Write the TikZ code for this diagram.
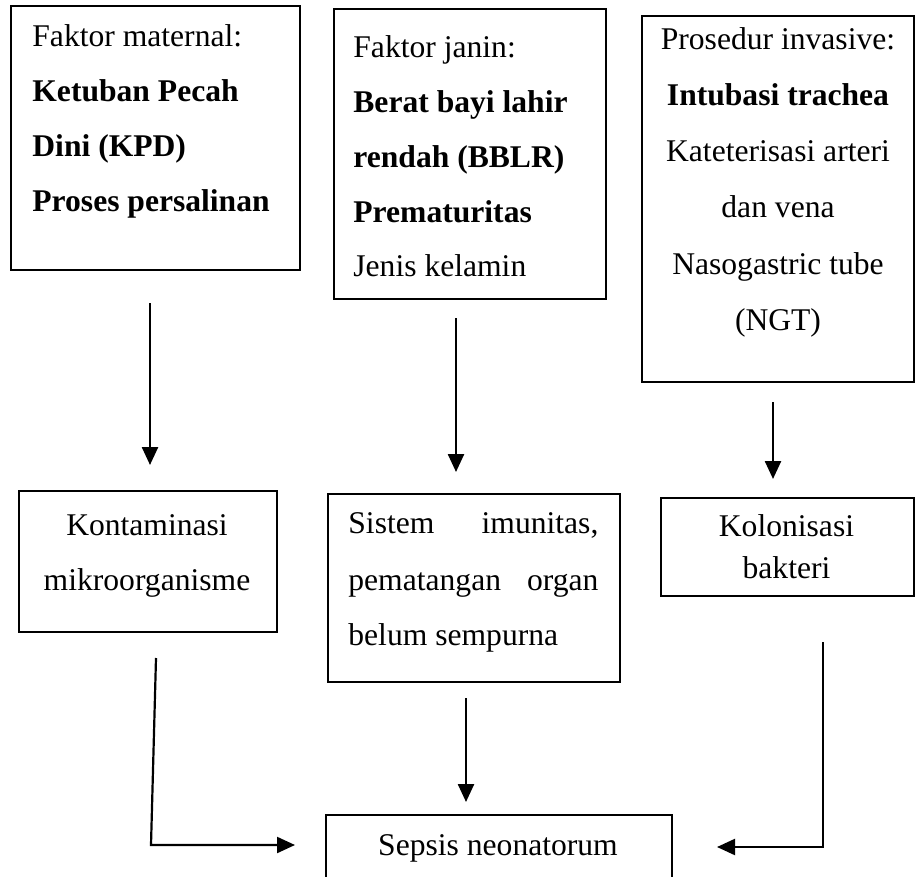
\documentclass[tikz,border=0pt]{standalone}
\usepackage{fontspec}
\setmainfont{Liberation Serif}
\usetikzlibrary{arrows.meta}
\begin{document}
\begin{tikzpicture}[x=0.5pt,y=-0.5pt,
  box/.style={draw, line width=0.8pt, rectangle, anchor=north west, inner sep=0pt},
  txt/.style={font=\fontsize{15.8pt}{19pt}\selectfont, inner sep=0pt},
  arr/.style={line width=1.25pt, -{Triangle[width=8pt,length=9pt]}},
  elbow/.style={line width=1.1pt, -{Triangle[width=8pt,length=9pt]}}]
\clip (0,0) rectangle (915,877);
% boxes
\node[box, minimum width=144.5pt, minimum height=132pt] (b1) at (10,5) {};
\node[box, minimum width=136pt, minimum height=145pt] (b2) at (333,8) {};
\node[box, minimum width=136pt, minimum height=183pt] (b3) at (641,15) {};
\node[box, minimum width=129pt, minimum height=70.5pt] (kont) at (18,490) {};
\node[box, minimum width=146pt, minimum height=94pt] (sist) at (327,493) {};
\node[box, minimum width=126.5pt, minimum height=49pt] (kolo) at (660,497) {};
\node[box, minimum width=173pt, minimum height=60pt] (seps) at (325,814) {};
% box 1 text
\node[txt, anchor=base west] (b1t1) at (32,46.7) {Faktor maternal:};
\node[txt, anchor=base west] (b1t2) at (32,101.7) {\textbf{Ketuban Pecah}};
\node[txt, anchor=base west] (b1t3) at (32,156.7) {\textbf{Dini (KPD)}};
\node[txt, anchor=base west] (b1t4) at (32,211.7) {\textbf{Proses persalinan}};
% box 2 text
\node[txt, anchor=base west] (b2t1) at (353,58) {Faktor janin:};
\node[txt, anchor=base west] (b2t2) at (353,113) {\textbf{Berat bayi lahir}};
\node[txt, anchor=base west] (b2t3) at (353,168) {\textbf{rendah (BBLR)}};
\node[txt, anchor=base west] (b2t4) at (353,223) {\textbf{Prematuritas}};
\node[txt, anchor=base west] (b2t5) at (353,277) {Jenis kelamin};
% box 3 text
\node[txt, anchor=base] (b3t1) at (778,50) {Prosedur invasive:};
\node[txt, anchor=base] (b3t2) at (778,106) {\textbf{Intubasi trachea}};
\node[txt, anchor=base] (b3t3) at (778,162) {Kateterisasi arteri};
\node[txt, anchor=base] (b3t4) at (778,218) {dan vena};
\node[txt, anchor=base] (b3t5) at (778,274) {Nasogastric tube};
\node[txt, anchor=base] (b3t6) at (778,330) {(NGT)};
% second row text
\node[txt, anchor=base] (kt1) at (147,535) {Kontaminasi};
\node[txt, anchor=base] (kt2) at (147,590) {mikroorganisme};
\node[txt, anchor=base west] (st1) at (348,533) {\makebox[125pt][s]{Sistem imunitas,}};
\node[txt, anchor=base west] (st2) at (348,590) {\makebox[125pt][s]{pematangan organ}};
\node[txt, anchor=base west] (st3) at (348,645) {belum sempurna};
\node[txt, anchor=base] (ct1) at (786.5,536) {Kolonisasi};
\node[txt, anchor=base] (ct2) at (786.5,578) {bakteri};
\node[txt, anchor=base] (spt) at (498,855) {Sepsis neonatorum};
% connector end points
\coordinate (a1s) at (150,303);
\coordinate (a1e) at (150,465);
\coordinate (a2s) at (456,318);
\coordinate (a2e) at (456,472);
\coordinate (a3s) at (773,402);
\coordinate (a3e) at (773,479);
\coordinate (a4s) at (156,658);
\coordinate (a4c) at (151,845);
\coordinate (a4e) at (295,845);
\coordinate (a5s) at (466,698);
\coordinate (a5e) at (466,802);
\coordinate (a6s) at (823,642);
\coordinate (a6c) at (823,847);
\coordinate (a6e) at (717,847);
% connectors
\draw[arr] (a1s) -- (a1e);
\draw[arr] (a2s) -- (a2e);
\draw[arr] (a3s) -- (a3e);
\draw[elbow] (a4s) -- (a4c) -- (a4e);
\draw[arr] (a5s) -- (a5e);
\draw[elbow] (a6s) -- (a6c) -- (a6e);
\end{tikzpicture}
\end{document}
